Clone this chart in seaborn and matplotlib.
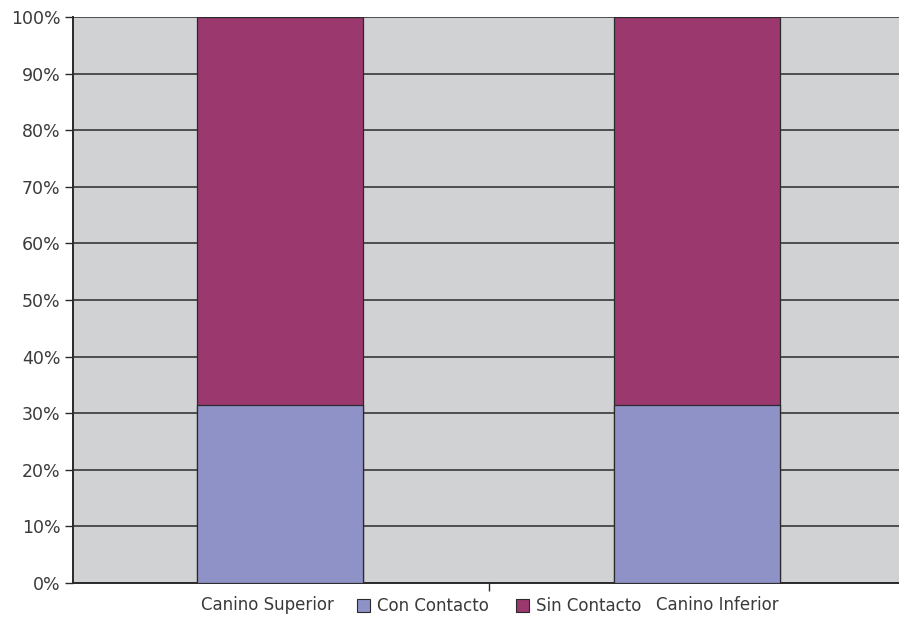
import matplotlib
matplotlib.use("Agg")
import matplotlib.pyplot as plt
import matplotlib.transforms as mtransforms
import seaborn as sns
import pandas as pd
from matplotlib.patches import Patch
from matplotlib.ticker import FixedLocator

# Data: share of each contact type per canine
categories = ["Canino Superior", "Canino Inferior"]
con_contacto = [31.4, 31.4]
sin_contacto = [68.6, 68.6]
series_names = ["Con Contacto", "Sin Contacto"]
y_ticks = [0, 10, 20, 30, 40, 50, 60, 70, 80, 90, 100]

col_con = "#8F92C7"
col_sin = "#9B386E"
bg = "#D1D2D4"
dark = "#2a2a2a"
text_col = "#3a3a3a"

df = pd.DataFrame({
    "Canino": categories,
    "con": con_contacto,
    "total": [c + s for c, s in zip(con_contacto, sin_contacto)],
})

sns.set_theme(style="white")
plt.rcParams["font.family"] = ["DejaVu Sans"]

fig = plt.figure(figsize=(8.99, 6.24), dpi=100)
ax = fig.add_axes([73 / 899, (624 - 583) / 624, (899 - 73) / 899, (583 - 17) / 624])
ax.set_facecolor(bg)

# Stacked bars: full height in the top colour, bottom segment drawn over it
sns.barplot(data=df, x="Canino", y="total", color=col_sin, width=0.4,
            edgecolor=dark, linewidth=0.9, saturation=1, ax=ax, zorder=3)
sns.barplot(data=df, x="Canino", y="con", color=col_con, width=0.4,
            edgecolor=dark, linewidth=0.9, saturation=1, ax=ax, zorder=4)

ax.set_xlim(-207 / 417, (899 - 73 - 207) / 417)
ax.set_ylim(0, 100)
ax.set_yticks(y_ticks)
ax.set_yticklabels([f"{t}%" for t in y_ticks])
ax.yaxis.grid(True, color=dark, linewidth=1.1, zorder=1)
ax.set_axisbelow(True)

ax.set_xlabel("")
ax.set_ylabel("")
ax.set_xticks([0, 1])
ax.set_xticklabels(categories)
ax.xaxis.set_minor_locator(FixedLocator([0.5]))
ax.tick_params(axis="x", which="major", length=0, pad=9, labelsize=12, colors=text_col)
ax.tick_params(axis="x", which="minor", length=6, width=1, color=dark, bottom=True)
ax.tick_params(axis="y", which="major", length=6, width=1, color=dark, left=True,
               labelsize=12.5, labelcolor=text_col, pad=3)

# Category labels sit beside the legend, nudged outward from the bar centres
shifts = [-13, 20]
for lbl, dx in zip(ax.get_xticklabels(), shifts):
    lbl.set_transform(lbl.get_transform() +
                      mtransforms.ScaledTranslation(dx / 100, 0, fig.dpi_scale_trans))

for side in ["top", "right"]:
    ax.spines[side].set_visible(False)
for side in ["left", "bottom"]:
    ax.spines[side].set_color(dark)
    ax.spines[side].set_linewidth(1.4)

handles = [Patch(facecolor=col_con, edgecolor=dark, linewidth=0.8),
           Patch(facecolor=col_sin, edgecolor=dark, linewidth=0.8)]
fig.legend(handles, series_names, loc="center", bbox_to_anchor=(499 / 899, 1 - 606 / 624),
           ncol=2, frameon=False, fontsize=12, handlelength=0.8, handleheight=0.8,
           handletextpad=0.4, columnspacing=1.6, labelcolor=text_col, borderpad=0)

fig.savefig("out.png", dpi=100, facecolor="white")
